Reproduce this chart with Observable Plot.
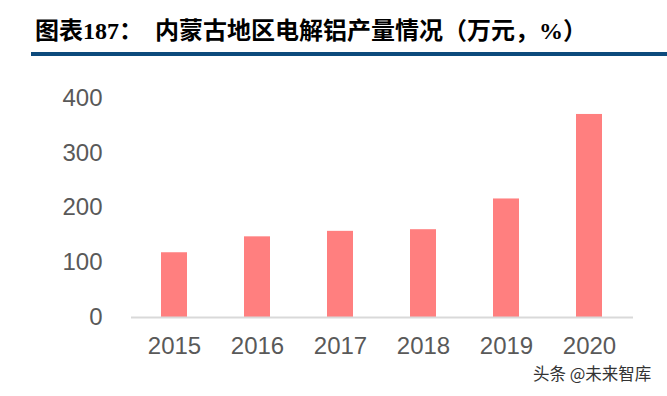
<!DOCTYPE html>
<html>
<head>
<meta charset="utf-8">
<script src="https://cdn.jsdelivr.net/npm/d3@7"></script>
<script src="https://cdn.jsdelivr.net/npm/@observablehq/plot@0.6"></script>
<style>
  html, body { margin: 0; padding: 0; background: #fff; }
  #wrap { position: relative; width: 667px; height: 396px; overflow: hidden; }
  #head { position: relative; height: 60px; }
  .t { position: absolute; top: 18px; font-family: "Liberation Serif", "Noto Sans CJK SC", serif; font-weight: bold; font-size: 24px; line-height: 26px; color: #000; white-space: nowrap; }
  #rule { position: absolute; left: 31px; top: 52px; width: 636px; height: 4px; background: #0c4a7c; }
  #mark { position: absolute; left: 533px; top: 363px; font-family: "Noto Sans CJK SC", sans-serif; font-size: 16.5px; line-height: 20px; color: #333; white-space: nowrap; }
  #chart svg { display: block; }
</style>
</head>
<body>
<div id="wrap">
  <div id="head">
    <div class="t" style="left:35px">图表187：</div>
    <div class="t" style="left:155px">内蒙古地区电解铝产量情况（万元，%）</div>
    <div id="rule"></div>
  </div>
  <div id="chart"></div>
  <div id="mark">头条 @未来智库</div>
</div>
<script>
const years = ["2015", "2016", "2017", "2018", "2019", "2020"];
const output = [118, 147, 157, 160, 216, 370];
const yTicks = [0, 100, 200, 300, 400];

const data = years.map((y, i) => ({year: y, value: output[i]}));

const chart = Plot.plot({
  width: 667,
  height: 336,
  marginLeft: 131,
  marginRight: 34,
  marginTop: 37.5,
  marginBottom: 79,
  style: {fontFamily: "Liberation Sans, Arial, sans-serif", fontSize: "24px", color: "#595959", background: "#fff"},
  x: {domain: years, paddingInner: 0.686, paddingOuter: 0.343, label: null, tickSize: 0, tickPadding: 19},
  y: {domain: [0, 400], ticks: yTicks, label: null, tickSize: 0, tickPadding: 29},
  marks: [
    Plot.barY(data, {x: "year", y: "value", fill: "#ff7f7f"}),
    Plot.ruleY([0], {stroke: "#d9d9d9", strokeWidth: 2})
  ]
});
document.getElementById("chart").appendChild(chart);
</script>
</body>
</html>
